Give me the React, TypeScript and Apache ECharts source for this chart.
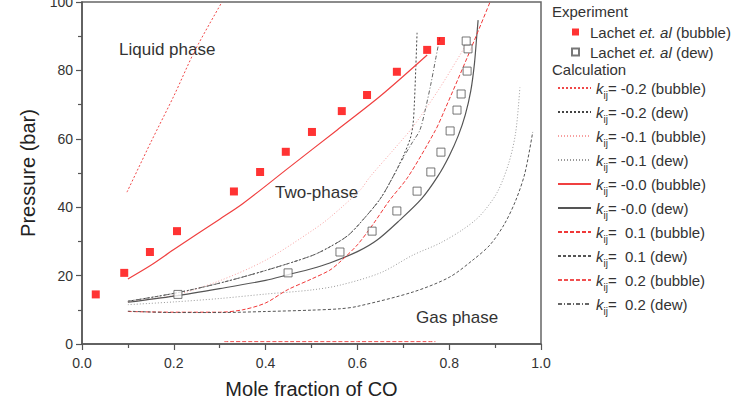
import React, { useEffect, useRef } from "react";
import * as echarts from "echarts";

// Experimental points (Lachet et al.)
const bubbleX = [0.03, 0.092, 0.148, 0.207, 0.331, 0.388, 0.444, 0.501, 0.566, 0.621, 0.686, 0.752, 0.782];
const bubbleP = [14.5, 20.8, 26.9, 33.0, 44.6, 50.3, 56.2, 62.0, 68.1, 72.8, 79.6, 86.0, 88.6];
const dewX = [0.209, 0.449, 0.562, 0.632, 0.686, 0.73, 0.76, 0.782, 0.802, 0.817, 0.826, 0.839, 0.841, 0.837];
const dewP = [14.5, 20.8, 26.9, 33.0, 38.9, 44.7, 50.3, 56.1, 62.3, 68.4, 73.1, 79.8, 86.3, 88.6];

// Calculated phase envelopes, [mole fraction, pressure]
const bubM02 = [[0.098, 44.4], [0.15, 59], [0.2, 72.5], [0.246, 85.8], [0.305, 100]];
const dewM02 = [[0.1, 12.5], [0.2, 14.8], [0.3, 17.8], [0.4, 21.5], [0.5, 25.8], [0.54, 28.4], [0.58, 31.8], [0.612, 36.3], [0.65, 42.5], [0.678, 49], [0.7, 55], [0.715, 60], [0.721, 64], [0.724, 70], [0.727, 80], [0.73, 91]];
const bubM01 = [[0.1, 12.3], [0.2, 14.2], [0.3, 18.5], [0.4, 24.5], [0.503, 33.3], [0.54, 37], [0.606, 45], [0.627, 48.8], [0.68, 57], [0.721, 63.5], [0.78, 75], [0.839, 88]];
const dewM01 = [[0.1, 11.5], [0.2, 12.3], [0.3, 13.3], [0.4, 14.6], [0.5, 15.8], [0.562, 17.2], [0.65, 20.8], [0.721, 26], [0.78, 29.5], [0.83, 33.5], [0.867, 37.5], [0.904, 44.2], [0.93, 53], [0.945, 62], [0.954, 75]];
const bubM00 = [[0.1, 19], [0.15, 23], [0.2, 27.6], [0.3, 36.5], [0.35, 41], [0.45, 51.5], [0.556, 62.6], [0.65, 72.5], [0.752, 84.5]];
const dewM00 = [[0.1, 12.2], [0.2, 14], [0.3, 16.2], [0.4, 18.6], [0.45, 20.3], [0.5, 22], [0.54, 23.7], [0.6, 27], [0.643, 30.4], [0.693, 36.3], [0.74, 42.5], [0.775, 49], [0.8, 55], [0.82, 61], [0.835, 67], [0.847, 74], [0.855, 82], [0.86, 90], [0.863, 94.7]];
const bubP01 = [[0.1, 9.5], [0.2, 9.3], [0.3, 9.3], [0.35, 10], [0.4, 12], [0.447, 15.8], [0.5, 19], [0.54, 21.6], [0.562, 24], [0.6, 29], [0.634, 35], [0.67, 42], [0.71, 48.8], [0.77, 62.5], [0.79, 68.4], [0.84, 84], [0.889, 100]];
const dewP01 = [[0.1, 9.6], [0.2, 9.2], [0.3, 9.2], [0.4, 9.5], [0.5, 9.9], [0.562, 10.3], [0.6, 11], [0.721, 15.2], [0.8, 19.5], [0.852, 24.6], [0.889, 29], [0.92, 35], [0.945, 42], [0.965, 50], [0.982, 62]];
const bubP02 = [[0.31, 0.7], [0.45, 0.7], [0.6, 0.7], [0.77, 0.7]];
const dewP02 = [[0.1, 12.5], [0.2, 14.8], [0.3, 17.8], [0.4, 21.5], [0.5, 25.8], [0.54, 28.4], [0.58, 31.8], [0.612, 36.3], [0.65, 42.5], [0.678, 49], [0.7, 54.5], [0.72, 59], [0.736, 62.5], [0.747, 68], [0.76, 76], [0.77, 83], [0.78, 90]];

const calcNames = [
  "-0.2 (bubble)", "-0.2 (dew)", "-0.1 (bubble)", "-0.1 (dew)", "-0.0 (bubble)",
  "-0.0 (dew)", " 0.1 (bubble)", " 0.1 (dew)", " 0.2 (bubble)", " 0.2 (dew)",
];
const calcData = [bubM02, dewM02, bubM01, dewM01, bubM00, dewM00, bubP01, dewP01, bubP02, dewP02];
const calcColors = ["#f04848", "#444444", "#f7a0a0", "#999999", "#f04040", "#555555", "#f03838", "#555555", "#f05050", "#666666"];
const calcDash: any[] = [[2, 2], [2, 2], [1, 2], [1, 2], "solid", "solid", [4, 2], [3, 2], [4, 2], [4, 2, 1, 2]];
const calcWidth = [1, 1, 1, 1, 1.2, 1.2, 1, 1, 1, 1];

const expNames = ["Lachet et. al (bubble)", "Lachet et. al (dew)"];

export default function App() {
  const ref = useRef<HTMLDivElement>(null);

  useEffect(() => {
    if (!ref.current) return;
    const chart = echarts.init(ref.current, null, { renderer: "svg" });
    const font = "Liberation Sans, Arial, sans-serif";

    const calcSeries = calcNames.map((name, i) => ({
      name,
      type: "line",
      data: calcData[i],
      smooth: 0.3,
      symbol: "none",
      z: 2,
      lineStyle: { color: calcColors[i], type: calcDash[i], width: calcWidth[i] },
      itemStyle: { color: calcColors[i] },
    }));

    chart.setOption({
      animation: false,
      textStyle: { fontFamily: font },
      grid: { left: 82, right: 201, top: 2, bottom: 52, show: true, borderColor: "#666", borderWidth: 1.5, outerBoundsMode: "none" },
      xAxis: {
        type: "value",
        min: 0,
        max: 1,
        interval: 0.2,
        name: "Mole fraction of CO",
        nameLocation: "middle",
        nameGap: 35,
        nameTextStyle: { fontSize: 20, color: "#222", fontFamily: font },
        axisLine: { show: true, onZero: false, lineStyle: { color: "#555", width: 1.5 } },
        axisTick: { show: true, inside: false, length: 6, lineStyle: { color: "#555", width: 1.2 } },
        minorTick: { show: true, splitNumber: 2, length: 4, lineStyle: { color: "#555", width: 1.2 } },
        splitLine: { show: false },
        axisLabel: { fontSize: 14, color: "#333", margin: 12, formatter: (v: number) => v.toFixed(1) },
      },
      yAxis: {
        type: "value",
        min: 0,
        max: 100,
        interval: 20,
        name: "Pressure (bar)",
        nameLocation: "middle",
        nameGap: 44,
        nameTextStyle: { fontSize: 20, color: "#222", fontFamily: font },
        axisLine: { show: true, onZero: false, lineStyle: { color: "#555", width: 1.5 } },
        axisTick: { show: true, inside: false, length: 6, lineStyle: { color: "#555", width: 1.2 } },
        minorTick: { show: true, splitNumber: 2, length: 4, lineStyle: { color: "#555", width: 1.2 } },
        splitLine: { show: false },
        axisLabel: { fontSize: 14, color: "#333", margin: 9 },
      },
      legend: [
        {
          data: expNames,
          orient: "vertical",
          left: 566,
          top: 19,
          itemWidth: 7,
          itemHeight: 7,
          itemGap: 4,
          textStyle: {
            fontSize: 15,
            color: "#333",
            lineHeight: 16,
            padding: [0, 0, 0, 6],
            rich: {
              n: { fontSize: 15, color: "#333", fontFamily: font, lineHeight: 16 },
              i: { fontSize: 15, color: "#333", fontStyle: "italic", fontFamily: font, lineHeight: 16 },
            },
          },
          formatter: (name: string) => {
            const tail = name.replace("Lachet et. al", "");
            return `{n|Lachet }{i|et. al}{n|${tail}}`;
          },
        },
        {
          data: calcNames,
          orient: "vertical",
          left: 552,
          top: 71,
          itemWidth: 33,
          itemHeight: 14,
          itemGap: 0,
          itemStyle: { color: "rgba(0,0,0,0)", borderColor: "rgba(0,0,0,0)", borderWidth: 0, opacity: 0 },
          textStyle: {
            fontSize: 15,
            color: "#333",
            rich: {
              k: { fontSize: 15, color: "#333", fontStyle: "italic", fontFamily: font, lineHeight: 16 },
              s: { fontSize: 10, color: "#333", fontFamily: font, lineHeight: 10, padding: [14, 0, 0, 0] },
              t: { fontSize: 15, color: "#333", fontFamily: font, lineHeight: 16 },
            },
          },
          formatter: (name: string) => `{k|k}{s|ij}{t|= ${name}}`,
        },
      ],
      graphic: [
        { type: "text", left: 552, top: 4, style: { text: "Experiment", fontSize: 15, fill: "#333", fontFamily: font } },
        { type: "text", left: 552, top: 62, style: { text: "Calculation", fontSize: 15, fill: "#333", fontFamily: font } },
        { type: "text", left: 119, top: 41, style: { text: "Liquid phase", fontSize: 17, fill: "#333", fontFamily: font } },
        { type: "text", left: 275, top: 184, style: { text: "Two-phase", fontSize: 17, fill: "#333", fontFamily: font } },
        { type: "text", left: 416, top: 309, style: { text: "Gas phase", fontSize: 17, fill: "#333", fontFamily: font } },
      ],
      series: [
        ...calcSeries,
        {
          name: expNames[0],
          type: "scatter",
          symbol: "rect",
          symbolSize: 8,
          z: 5,
          data: bubbleX.map((x, i) => [x, bubbleP[i]]),
          itemStyle: { color: "#ff0000" },
        },
        {
          name: expNames[1],
          type: "scatter",
          symbol: "rect",
          symbolSize: 8,
          z: 5,
          data: dewX.map((x, i) => [x, dewP[i]]),
          itemStyle: { color: "#ffffff", borderColor: "#555", borderWidth: 1 },
        },
      ],
    });

    return () => chart.dispose();
  }, []);

  return (
    <div
      ref={ref}
      style={{ position: "absolute", left: 0, top: 0, width: 742, height: 396, background: "#fff" }}
    />
  );
}
